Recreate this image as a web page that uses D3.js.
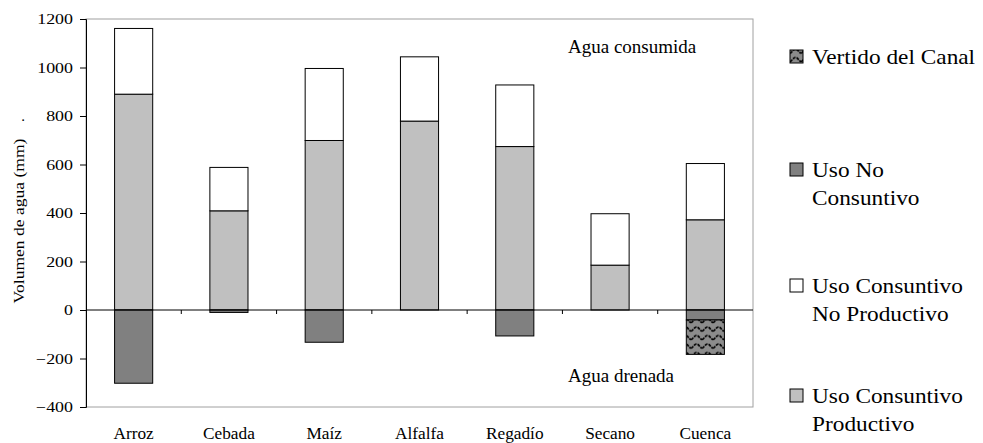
<!DOCTYPE html>
<html>
<head>
<meta charset="utf-8">
<script src="https://cdn.jsdelivr.net/npm/d3@7"></script>
<style>
  body { margin: 0; background: #fff; }
  svg text { font-family: "Liberation Serif", Tinos, "DejaVu Serif", serif !important; fill: #000; }
</style>
</head>
<body>
<svg id="chart" width="983" height="443" font-family="Liberation Serif, DejaVu Serif, serif"></svg>
<script>
// categories and series (mm)
var categories = ['Arroz', 'Cebada', 'Maíz', 'Alfalfa', 'Regadío', 'Secano', 'Cuenca'];
var usoProductivo = [890, 409, 699, 779, 674, 185, 372];
var usoNoProductivo = [271, 179, 297, 265, 254, 212, 232];
var usoNoConsuntivo = [-302, -10, -133, 0, -107, 0, -41];
var vertidoCanal = [0, 0, 0, 0, 0, 0, -142];
var yTicks = [-400, -200, 0, 200, 400, 600, 800, 1000, 1200];
var legendItems = [
	{ key: 'vertido', lines: ['Vertido del Canal'] },
	{ key: 'noConsuntivo', lines: ['Uso No', 'Consuntivo'] },
	{ key: 'noProductivo', lines: ['Uso Consuntivo', 'No Productivo'] },
	{ key: 'productivo', lines: ['Uso Consuntivo', 'Productivo'] }
];

var fills = {
	productivo: '#c0c0c0',
	noProductivo: '#ffffff',
	noConsuntivo: '#808080',
	vertido: 'url(#waves)'
};

var svg = d3.select('#chart');
var margin = { left: 86, top: 19, right: 230, bottom: 36 };
var W = 983 - margin.left - margin.right;
var H = 443 - margin.top - margin.bottom;

// wavy pattern for "Vertido del Canal"
var pat = svg.append('defs').append('pattern')
	.attr('id', 'waves')
	.attr('patternUnits', 'userSpaceOnUse')
	.attr('width', 11).attr('height', 8.5);
pat.append('rect').attr('width', 11).attr('height', 8.5).attr('fill', '#8c8c8c');
pat.append('path')
	.attr('d', 'M0,6 C2,6 3,2 5.5,2 S9,6 11,6')
	.attr('fill', 'none')
	.attr('stroke', '#000')
	.attr('stroke-width', 1.7)
	.attr('stroke-dasharray', '3,1');

var g = svg.append('g').attr('transform', 'translate(' + margin.left + ',' + margin.top + ')');

var x = d3.scaleBand().domain(categories).range([0, W]).paddingInner(0.6).paddingOuter(0.3);
var y = d3.scaleLinear().domain([-400, 1200]).range([H, 0]);

// plot frame (grey)
g.append('rect')
	.attr('x', 0).attr('y', 0).attr('width', W).attr('height', H)
	.attr('fill', 'none').attr('stroke', '#a0a0a0').attr('stroke-width', 1);

// build stacked segments
var segs = [];
categories.forEach(function(c, i){
	segs.push({ cat: c, key: 'productivo', y0: 0, y1: usoProductivo[i] });
	segs.push({ cat: c, key: 'noProductivo', y0: usoProductivo[i], y1: usoProductivo[i] + usoNoProductivo[i] });
	if (usoNoConsuntivo[i] != 0)
		segs.push({ cat: c, key: 'noConsuntivo', y0: 0, y1: usoNoConsuntivo[i] });
	if (vertidoCanal[i] != 0)
		segs.push({ cat: c, key: 'vertido', y0: usoNoConsuntivo[i], y1: usoNoConsuntivo[i] + vertidoCanal[i] });
});

g.selectAll('rect.seg')
	.data(segs)
	.enter().append('rect')
	.attr('class', 'seg')
	.attr('x', function(d){ return x(d.cat); })
	.attr('width', x.bandwidth())
	.attr('y', function(d){ return y(Math.max(d.y0, d.y1)); })
	.attr('height', function(d){ return Math.abs(y(d.y0) - y(d.y1)); })
	.attr('fill', function(d){ return fills[d.key]; })
	.attr('stroke', '#000')
	.attr('stroke-width', 1);

// zero line with category separator ticks
g.append('line')
	.attr('x1', 0).attr('x2', W)
	.attr('y1', y(0)).attr('y2', y(0))
	.attr('stroke', '#000').attr('stroke-width', 1);
var step = x.step();
g.selectAll('line.ctick')
	.data(categories.slice(1))
	.enter().append('line')
	.attr('class', 'ctick')
	.attr('x1', function(d){ return x(d) - step * 0.3; })
	.attr('x2', function(d){ return x(d) - step * 0.3; })
	.attr('y1', y(0)).attr('y2', y(0) + 4)
	.attr('stroke', '#000');

// y axis
var yAxis = g.append('g')
	.call(d3.axisLeft(y).tickValues(yTicks).tickSize(6).tickPadding(7).tickFormat(d3.format('d')));
yAxis.attr('font-family', null);
yAxis.select('.domain').attr('stroke', '#000');
yAxis.selectAll('.tick line').attr('stroke', '#000');
yAxis.selectAll('.tick text')
	.attr('font-size', 14)
	.attr('fill', '#000')
	.attr('dy', '0.35em')
	.attr('transform', 'scale(1.28,1)')
	.attr('x', -13 / 1.28);

// category labels
g.selectAll('text.cat')
	.data(categories)
	.enter().append('text')
	.attr('class', 'cat')
	.attr('text-anchor', 'middle')
	.attr('font-size', 16)
	.attr('transform', function(d){
		return 'translate(' + (x(d) + x.bandwidth() / 2) + ',' + (H + 32) + ') scale(1.08,1)';
	})
	.text(function(d){ return d; });

// y title
svg.append('text')
	.attr('text-anchor', 'middle')
	.attr('font-size', 15)
	.attr('transform', 'translate(24,221) rotate(-90) scale(1.17,1)')
	.text('Volumen de agua (mm)');
svg.append('text')
	.attr('text-anchor', 'middle')
	.attr('font-size', 15)
	.attr('transform', 'translate(24,120) rotate(-90)')
	.text('.');

// annotations
svg.append('text').attr('x', 568).attr('y', 53).attr('font-size', 19).text('Agua consumida');
svg.append('text').attr('x', 568).attr('y', 382).attr('font-size', 19).text('Agua drenada');

// legend
var legendY = [64, 177, 293, 403];
var lg = svg.selectAll('g.leg')
	.data(legendItems)
	.enter().append('g')
	.attr('class', 'leg')
	.attr('transform', function(d, i){ return 'translate(790,' + legendY[i] + ')'; });
lg.append('rect')
	.attr('x', 0).attr('y', -14).attr('width', 13).attr('height', 13)
	.attr('fill', function(d){ return fills[d.key]; })
	.attr('stroke', '#000').attr('stroke-width', 1);
lg.each(function(d){
	var sel = d3.select(this);
	d.lines.forEach(function(line, j){
		sel.append('text')
			.attr('font-size', 22)
			.attr('transform', 'translate(22,' + (j * 28) + ') scale(1.06,1)')
			.text(line);
	});
});
</script>
</body>
</html>
